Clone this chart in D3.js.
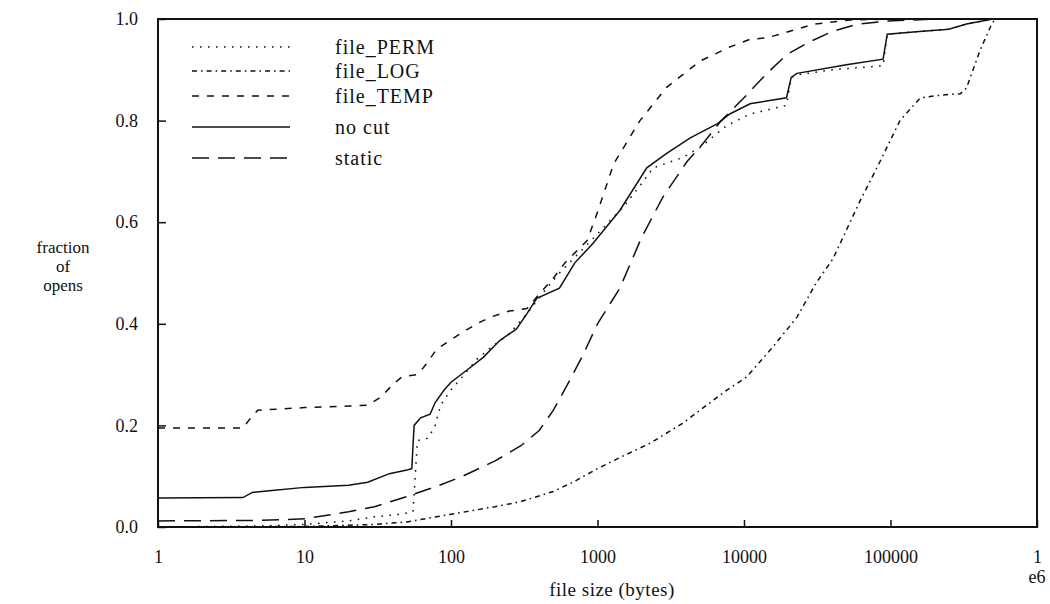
<!DOCTYPE html>
<html lang="en">
<head>
<meta charset="utf-8">
<title>fraction of opens by file size</title>
<script src="https://cdn.jsdelivr.net/npm/d3@7"></script>
<style>
  body { margin: 0; background: #fff; }
  text { font-family: "Liberation Serif", "DejaVu Serif", serif; fill: #111; }
  .series { fill: none; stroke: #111; stroke-width: 1.5; }
  .axis path { display: none; }
  .axis line { stroke: #111; stroke-width: 1.5; }
  .axis text { font-size: 18px; }
</style>
</head>
<body>
<script>
// series: [file size (bytes), fraction of opens]
var filePerm = [[1,0],[5,0.002],[10,0.005],[20,0.012],[30,0.02],[45,0.025],[55,0.03],[57,0.1],[59,0.17],
  [70,0.175],[78,0.2],[85,0.24],[100,0.27],[115,0.29],[150,0.33],[190,0.355],[250,0.38],[330,0.42],
  [450,0.47],[550,0.5],[1000,0.577],[1500,0.63],[2050,0.68],[2400,0.707],[3800,0.727],[5000,0.747],
  [7600,0.79],[11000,0.813],[19500,0.83],[21000,0.885],[23000,0.89],[40000,0.9],[89000,0.908],
  [95000,0.97],[150000,0.975],[250000,0.98],[330000,0.99],[500000,1],[1e6,1]];
var fileLog = [[1,0],[10,0.001],[30,0.005],[50,0.01],[100,0.025],[200,0.04],[300,0.05],[500,0.07],
  [700,0.09],[1000,0.115],[1500,0.14],[2290,0.165],[3800,0.204],[7600,0.269],[10400,0.295],
  [15700,0.354],[23000,0.413],[31000,0.48],[40500,0.528],[62000,0.642],[85000,0.72],[116000,0.8],
  [160000,0.845],[220000,0.85],[300000,0.853],[330000,0.864],[407000,0.937],[490000,0.99],
  [520000,1],[1e6,1]];
var fileTemp = [[1,0.195],[3.8,0.195],[4.3,0.215],[4.8,0.23],[10,0.235],[20,0.238],[27,0.24],
  [33,0.255],[40,0.28],[46,0.295],[58,0.3],[65,0.314],[80,0.35],[115,0.38],[150,0.4],[185,0.413],
  [250,0.425],[330,0.43],[405,0.46],[500,0.49],[600,0.52],[850,0.564],[1000,0.62],[1290,0.715],
  [1950,0.8],[2950,0.865],[5000,0.917],[8000,0.945],[11000,0.96],[14400,0.963],[20000,0.975],
  [30000,0.99],[53000,0.998],[100000,1],[1e6,1]];
var noCut = [[1,0.057],[3.8,0.058],[4.4,0.068],[6,0.072],[10,0.078],[20,0.082],[27,0.088],[38,0.105],
  [50,0.112],[54,0.115],[56,0.2],[62,0.215],[72,0.222],[78,0.245],[90,0.27],[100,0.285],[130,0.31],
  [166,0.334],[215,0.367],[280,0.39],[330,0.42],[385,0.45],[550,0.47],[700,0.52],[930,0.558],
  [1420,0.623],[2170,0.707],[2950,0.735],[4300,0.766],[6600,0.794],[8000,0.813],[11000,0.833],
  [19500,0.845],[21000,0.885],[23000,0.893],[50000,0.91],[89000,0.921],[95000,0.97],[150000,0.975],
  [250000,0.98],[330000,0.99],[500000,1],[1e6,1]];
var staticCut = [[1,0.012],[5,0.013],[10,0.016],[20,0.03],[30,0.04],[50,0.06],[80,0.08],[120,0.1],
  [200,0.13],[300,0.16],[400,0.19],[500,0.23],[650,0.29],[800,0.34],[1000,0.4],[1420,0.47],
  [2000,0.57],[2800,0.65],[4100,0.72],[5250,0.755],[7000,0.8],[10000,0.845],[14000,0.89],
  [19600,0.93],[28000,0.955],[40500,0.976],[60000,0.99],[95000,0.996],[200000,1],[1e6,1]];

var seriesNames = ["file_PERM", "file_LOG", "file_TEMP", "no cut", "static"];
var xTicks = [1, 10, 100, 1000, 10000, 100000, 1e6];
var yTicks = [0, 0.2, 0.4, 0.6, 0.8, 1.0];

var dashes = {
  "file_PERM": "1.6,6.4",
  "file_LOG": "5,4,1.6,4",
  "file_TEMP": "7,8",
  "no cut": null,
  "static": "17,9"
};
var seriesData = [filePerm, fileLog, fileTemp, noCut, staticCut];

var W = 1050, H = 604;
var margin = {top: 19, right: 13, bottom: 77, left: 158};
var w = W - margin.left - margin.right,
    h = H - margin.top - margin.bottom;

var svg = d3.select("body").append("svg")
  .attr("width", W).attr("height", H);
var g = svg.append("g")
  .attr("transform", "translate(" + margin.left + "," + margin.top + ")");

var x = d3.scaleLog().domain([1, 1e6]).range([0, w]);
var y = d3.scaleLinear().domain([0, 1]).range([h, 0]);

// axes, ticks pointing inward
g.append("g")
  .attr("class", "axis")
  .attr("transform", "translate(0," + h + ")")
  .call(d3.axisBottom(x).tickValues(xTicks).tickSizeInner(-7).tickSizeOuter(0).tickPadding(23)
    .tickFormat(function(d) { return d === 1e6 ? "1" : d3.format("d")(d); }));

g.append("g")
  .attr("class", "axis")
  .call(d3.axisLeft(y).tickValues(yTicks).tickSizeInner(-8).tickSizeOuter(0).tickPadding(20)
    .tickFormat(d3.format(".1f")));

g.append("text")
  .attr("x", x(1e6)).attr("y", h + 56)
  .attr("text-anchor", "middle")
  .style("font-size", "18px")
  .text("e6");

// frame
g.append("rect")
  .attr("width", w).attr("height", h)
  .attr("fill", "none").attr("stroke", "#111").attr("stroke-width", 2);

var line = d3.line()
  .x(function(d) { return x(d[0]); })
  .y(function(d) { return y(d[1]); });

g.selectAll("path.series")
  .data(seriesData)
  .enter().append("path")
  .attr("class", "series")
  .attr("d", line)
  .attr("stroke-dasharray", function(d, i) { return dashes[seriesNames[i]]; });

// legend
var legendY = [28, 52, 77, 108, 139];
var legend = g.selectAll("g.legend")
  .data(seriesNames)
  .enter().append("g")
  .attr("class", "legend")
  .attr("transform", function(d, i) { return "translate(34," + legendY[i] + ")"; });

legend.append("line")
  .attr("x1", 0).attr("x2", 98)
  .attr("stroke", "#111").attr("stroke-width", 1.5)
  .attr("stroke-dasharray", function(d) { return dashes[d]; });

legend.append("text")
  .attr("x", 143).attr("dy", "0.33em")
  .style("font-size", "20px")
  .style("letter-spacing", "1px")
  .text(function(d) { return d; });

// axis titles
svg.append("text")
  .attr("x", 612).attr("y", 596)
  .attr("text-anchor", "middle")
  .style("font-size", "19px")
  .style("letter-spacing", "0.5px")
  .text("file size (bytes)");

var yTitle = svg.append("text")
  .attr("text-anchor", "middle")
  .style("font-size", "17px");
yTitle.selectAll("tspan")
  .data(["fraction", "of", "opens"])
  .enter().append("tspan")
  .attr("x", 63)
  .attr("y", function(d, i) { return 253 + i * 19; })
  .text(function(d) { return d; });
</script>
</body>
</html>
